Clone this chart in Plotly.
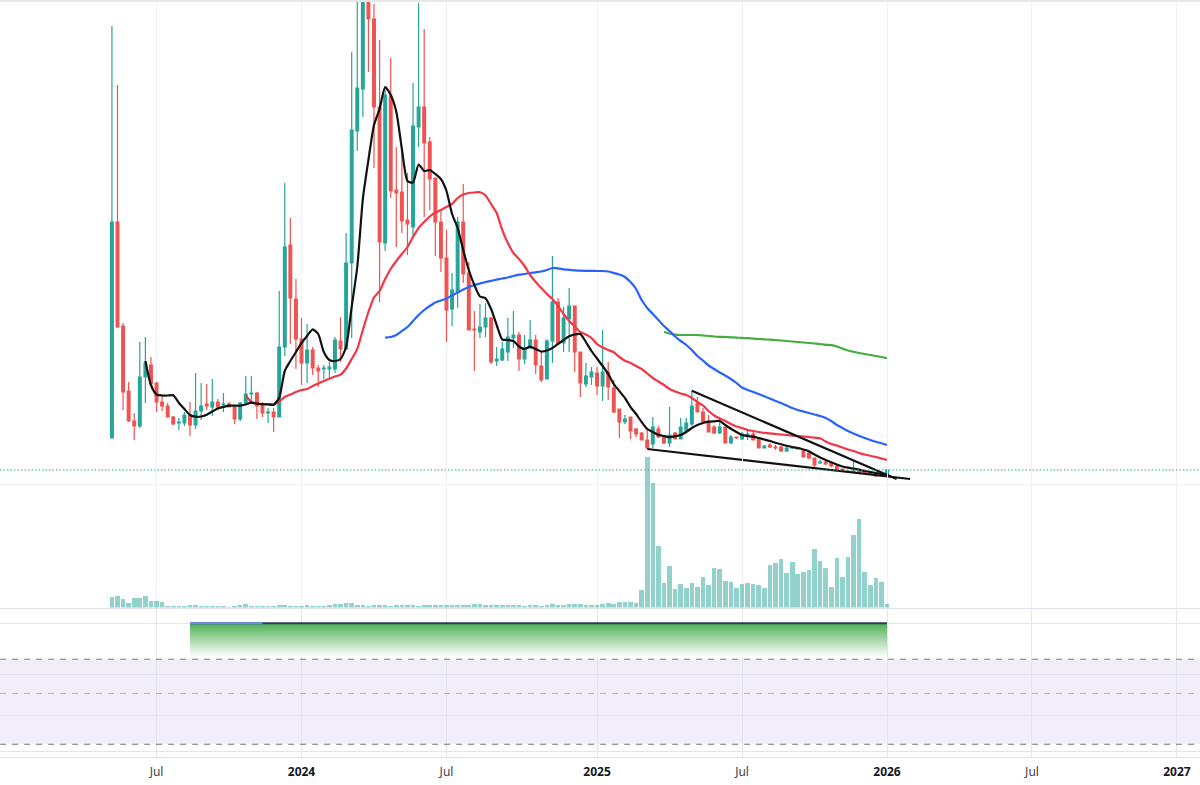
import pandas as pd
import plotly.graph_objects as go
from plotly.subplots import make_subplots

# weekly bars, price in chart units
dates = pd.date_range("2023-05-08", periods=140, freq="7D")

opens = [46,262,158,93,63,58,107,119,101,82,
	78,67,61,61,69,59,73,80,77,82,
	79,80,77,65,81,90,91,78,71,72,
	67,137,239,185,145,121,134,116,115,115,
	115,143,135,221,353,395,490,465,377,241,
	388,294,292,264,257,357,377,342,306,262,
	226,175,192,262,211,155,152,157,166,123,
	124,132,146,149,125,136,144,118,105,143,
	182,141,165,178,132,100,107,111,98,112,
	96,75,62,67,55,51,44,40,55,48,
	41,51,45,53,60,81,72,63,57,51,
	57,41,47,45,48,50,45,36,39,37,
	37,33,36,36,33,31,26,21,22,21,
	18,15,13,12,13,12,12,11,8,9]
highs = [458,399,161,102,71,142,147,127,102,88,
	81,68,66,72,82,111,101,100,105,85,
	91,82,78,82,108,108,92,82,76,76,
	193,301,266,205,166,160,137,119,119,122,
	147,167,251,432,490,500,505,480,444,396,
	426,337,333,311,401,481,455,347,306,274,
	254,211,267,300,222,173,180,181,167,137,
	142,166,173,152,149,164,149,132,145,228,
	186,177,196,178,132,121,117,117,154,122,
	104,75,69,67,56,52,54,67,58,49,
	77,52,66,66,93,87,76,69,59,67,
	57,49,47,52,53,52,46,39,41,39,
	38,38,38,37,34,32,26,24,24,22,
	19,15,13,23,13,12,12,11,11,15]
lows = [46,156,74,62,44,56,81,99,72,73,
	67,59,54,58,48,55,64,74,68,76,
	72,77,60,63,80,81,65,67,61,52,
	67,128,140,115,99,101,109,97,105,106,
	111,122,134,146,333,367,412,316,182,233,
	286,237,251,229,247,337,267,274,228,212,
	142,158,176,201,154,113,146,147,120,118,
	123,123,136,113,120,135,110,102,105,121,
	141,132,132,112,87,97,99,89,83,84,
	71,46,60,45,47,44,35,36,46,40,
	37,45,45,53,58,72,62,52,50,50,
	41,40,45,44,44,44,36,36,36,34,
	32,32,35,35,27,25,17,20,19,17,
	14,12,11,11,10,10,9,7,7,8]
closes = [262,157,92,63,58,107,121,100,82,78,
	67,60,62,69,59,73,78,78,82,77,
	80,77,65,81,90,91,78,71,72,67,
	137,237,186,145,121,134,116,113,116,117,
	144,135,221,354,396,490,465,377,242,389,
	293,291,263,260,358,377,341,305,262,226,
	174,194,262,210,154,154,157,166,122,125,
	135,147,149,125,136,144,119,104,143,182,
	141,166,178,132,101,108,112,98,112,97,
	72,62,65,53,50,44,36,57,47,41,
	49,45,57,61,78,72,62,52,51,57,
	41,47,46,50,50,44,36,38,37,36,
	33,36,37,35,27,26,19,22,20,18,
	15,13,12,13,11,11,10,8,11,14]

volumes = [11,12,8.7,4.7,9.7,9.7,12,6.7,6.7,5.7,
	2,2,1.7,1.7,3,3,1.7,1.7,1.7,1.7,
	1.7,0.7,1.7,3,4,1.7,1.7,1.7,1.7,1.7,
	3,3,1.7,1.7,1.7,3,1.7,1.7,1.7,3,
	4,4,5,5,3,3,1.7,3,3,3,
	1.7,3,3,3,3,1.7,3,3,3,3,
	3,3,3,3,3,4,4,3,3,3,
	3,3,3,3,1.7,3,3,1.7,3,3.7,
	3,3,3.7,3.7,3.7,3,3,3,3.7,4.7,
	3.7,5.7,5.7,5.7,4.7,17.7,151,124.7,62,25,
	42,18.7,23.7,19.7,24.7,21,30.7,22.7,39.7,38.7,
	26.7,25.7,19.7,23.7,24.7,23.7,22.7,19.7,42.7,44.7,
	48.7,34.7,45.7,33.7,35.7,37.7,58.7,46.7,39.7,21,
	49.7,30.7,50.7,72.7,88.7,35.7,22.7,29.7,25.7,3.7]

# moving averages, each one runs up to the last bar
ma_black = [123,99,89.5,88.5,88.5,88.7,81.3,75,69,67.3,67.5,69.3,72.5,75.5,77,78.3,78.3,78.3,79.5,81.3,
	80.5,79.7,79.5,79.3,86.3,113,123,132,141,148,154.7,150,132,124,123,125,137.3,177.3,217,285,
	324,359,375,397,389,372.3,335,303,301.5,319.5,313,314,310,305,293,270,256,234,214,199,
	187.5,185.7,175,159,144.5,144,143,137.5,135,137.3,135,132.5,133.5,136,140,144,147.7,149.5,150,142,
	133,125.5,118,110,100,93,86,77,70,62,55,52,49.2,48,46.8,47.7,49,52,56,59,
	61,62.3,62.7,63,59,55.2,52,49,48,47.3,46,44.5,43,41.3,39.7,38.2,37,36,34.5,32.7,
	29.5,26.5,24,21.7,19.5,17.5,16.3,15.3,14.3,13,12,11,10,9]
ma_red = [88.5,82,80,80,80,79.5,82.3,87,89.5,92,94,95,98,100.5,103,105.3,107.5,109.3,115.5,125,
	135,154,172,186.5,193,205,215,223,230,237,247,256,262,267.5,271.5,274,277,280,286,289.5,
	291,291.5,291.7,288.5,280,271,254,241,231,225,218,209,202,196,190,185,178,170,163,157.5,
	152,149.5,146,140,136.5,134,131.7,127,123.3,121,118,115,110.5,106,102.5,99,95,92.5,90.5,89,
	86,82,78.5,73,68.5,65.5,63,60,57.5,56,54,53,52,51.2,50.7,50,49.5,49,48.4,48,
	47.5,47,46.3,45.7,42.5,40,38.5,36.5,34.5,33,31,29.5,28.2,27,25.5,24]
ma_blue = [146.3,147,149,153,157,163,169,174,178,181.5,183.5,185.6,188.5,191.5,194.5,197,199,200.5,202,203.2,
	204.3,205.5,206.5,208,209.3,210,211,211.7,212.5,214,216,215.7,214.7,214.2,213.7,213.3,213.2,213.2,213,213,
	212.5,211,209.5,207,202,195,184,176,170,164,158,153,147.5,143,139,134,128,123.5,118.5,115,
	111.5,108.5,105,101,96.5,94,92,90,87.7,85.5,83,81,78.5,76,74,72.5,71,69.5,68,66,
	63,59,56,53,50.5,48,46,44,42.3,40.7,39]
ma_green = [152,150.5,149.3,149,149,149,149,148.5,148,147.5,147.2,147,146.7,146.4,146.1,145.8,145.4,145,144.7,144.3,
	144,143.5,143,142.5,142,141.5,141,140.5,140,139.2,138.8,137.5,135.5,133.5,132.2,131,130,129,128,127,125.7]

# hand drawn wedge
wedge_upper_dates = ["2025-05-05", "2026-01-17"]
wedge_upper_values = [93.3, 5]
wedge_lower_dates = ["2025-03-10", "2026-02-03"]
wedge_lower_values = [35, 5]

# indicator pane
osc_band_top = 65.4
osc_band_mid = 42.5
osc_band_bottom = 8.5
osc_grid = [89.4, 55.3, 27.9, 3.5]
osc_start = 14
osc_switch = 27
osc_top = 89.4
osc_floor = 66.9

tick_dates = ["2023-07-03", "2024-01-01", "2024-07-01", "2025-01-06", "2025-07-07", "2026-01-05", "2026-07-06", "2027-01-04"]
tick_names = ["Jul", "2024", "Jul", "2025", "Jul", "2026", "Jul", "2027"]

TEAL = "#26a69a"
RED = "#ef5350"
GRID = "#f0f1f4"

tick_text = []
for name in tick_names:
	if name == "Jul":
		tick_text.append('<span style="color:#3c4048">Jul</span>')
	else:
		tick_text.append("<b>" + name + "</b>")

fig = make_subplots(rows=3, cols=1, shared_xaxes=True, vertical_spacing=0)

fig.add_trace(go.Candlestick(x=dates, open=opens, high=highs, low=lows, close=closes,
	increasing=dict(line=dict(color=TEAL, width=1.2), fillcolor=TEAL),
	decreasing=dict(line=dict(color=RED, width=1.2), fillcolor=RED),
	whiskerwidth=0, showlegend=False), row=1, col=1)

for values, color in [(ma_green, "#43ad3f"), (ma_blue, "#2962ff"), (ma_red, "#f23645"), (ma_black, "#111111")]:
	fig.add_trace(go.Scatter(x=dates[-len(values):], y=values, mode="lines",
		line=dict(color=color, width=2.2, shape="spline", smoothing=0.6), showlegend=False), row=1, col=1)

fig.add_trace(go.Scatter(x=wedge_upper_dates, y=wedge_upper_values, mode="lines",
	line=dict(color="#111111", width=2.2), showlegend=False), row=1, col=1)
fig.add_trace(go.Scatter(x=wedge_lower_dates, y=wedge_lower_values, mode="lines",
	line=dict(color="#111111", width=2.2), showlegend=False), row=1, col=1)

fig.add_trace(go.Bar(x=dates, y=volumes, width=5.8 * 86400000,
	marker=dict(color="rgba(38,166,154,0.5)", line=dict(width=0)), showlegend=False), row=2, col=1)

# green block of the lower pane
osc_dates = dates[osc_start:]
fig.add_trace(go.Scatter(x=osc_dates, y=[osc_floor] * len(osc_dates), mode="lines",
	line=dict(width=0), showlegend=False), row=3, col=1)
fig.add_trace(go.Scatter(x=osc_dates, y=[osc_top] * len(osc_dates), mode="lines",
	line=dict(color="#2a3a5e", width=2), fill="tonexty",
	fillgradient=dict(type="vertical", colorscale=[[0, "rgba(255,255,255,0.9)"], [1, "#4caf50"]]),
	showlegend=False), row=3, col=1)
fig.add_trace(go.Scatter(x=dates[osc_start:osc_switch + 1], y=[osc_top] * (osc_switch + 1 - osc_start), mode="lines",
	line=dict(color="#6f8fe8", width=2), showlegend=False), row=3, col=1)

# band and levels
fig.add_shape(type="rect", xref="paper", x0=0, x1=1, yref="y3", y0=osc_band_bottom, y1=osc_band_top,
	fillcolor="rgba(126,87,194,0.1)", line=dict(width=0), layer="below")
for level, color in [(osc_band_top, "#787b86"), (osc_band_mid, "#b2b5be"), (osc_band_bottom, "#787b86")]:
	fig.add_shape(type="line", xref="paper", x0=0, x1=1, yref="y3", y0=level, y1=level,
		line=dict(color=color, width=1, dash="6px,6px"))

# last price line
fig.add_shape(type="line", xref="paper", x0=0, x1=1, yref="y", y0=closes[-1], y1=closes[-1],
	line=dict(color=TEAL, width=1.2, dash="1.5px,2px"))

# strip above the chart
fig.add_shape(type="rect", xref="paper", x0=0, x1=1, yref="paper", y0=1, y1=1.0027,
	fillcolor="#e8e8e8", line=dict(width=0))

fig.update_xaxes(type="date", range=["2022-12-18 12:00", "2027-02-01 22:00"],
	tickmode="array", tickvals=tick_dates, ticktext=tick_text,
	showgrid=True, gridcolor=GRID, gridwidth=1, zeroline=False,
	showline=True, ticks="", rangeslider_visible=False)
fig.update_xaxes(linecolor="#f0f1f4", row=1, col=1)
fig.update_xaxes(linecolor="#e0e3eb", row=2, col=1)
fig.update_xaxes(linecolor="#e0e3eb", gridcolor="#e4e4ec", showticklabels=True, ticklabelstandoff=4,
	tickfont=dict(family="Noto Sans, sans-serif", size=12, color="#131722"), row=3, col=1)

fig.update_yaxes(showgrid=False, zeroline=False, showticklabels=False, fixedrange=True)
fig.update_yaxes(range=[0, 482], domain=[273 / 755, 1], row=1, col=1)
# volume pane reaches up into the price pane for the spike
fig.update_yaxes(range=[0, 160], domain=[149.5 / 755, 309.5 / 755], row=2, col=1)
fig.update_yaxes(range=[0, 100], domain=[0, 149.5 / 755], tickmode="array", tickvals=osc_grid,
	showgrid=True, gridcolor="#e4e4ec", row=3, col=1)

fig.update_layout(width=1200, height=785, margin=dict(l=0, r=0, t=2, b=28),
	paper_bgcolor="white", plot_bgcolor="rgba(0,0,0,0)", showlegend=False, bargap=0,
	font=dict(family="Noto Sans, sans-serif", size=12, color="#131722"))

fig.write_html("out.html", config=dict(displayModeBar=False), post_script="document.body.style.margin='0';")
